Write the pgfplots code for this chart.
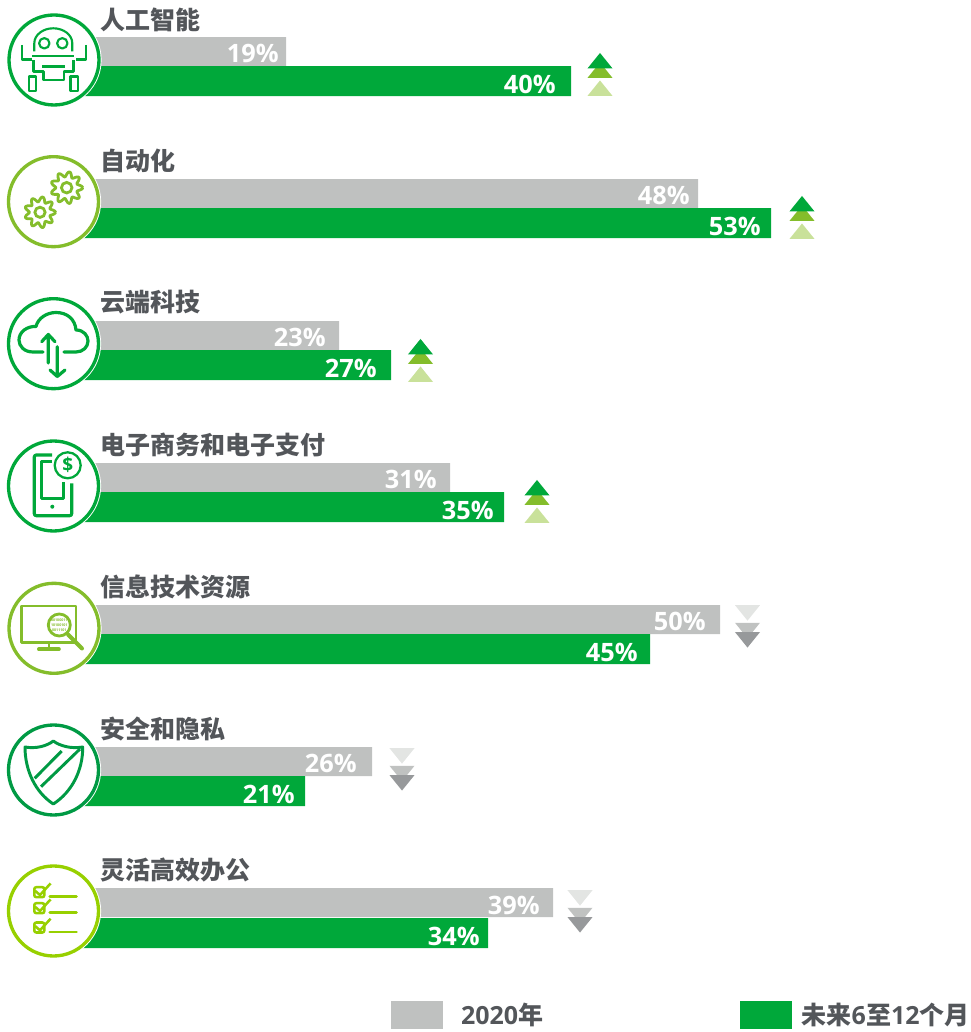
\documentclass[border=0pt]{standalone}
\usepackage{pgfplots}
\usepackage{pgfplotstable}
\pgfplotsset{compat=1.18}
\usepackage{fontspec}
\setmainfont{Open Sans}
\newfontfamily\cjk{Noto Sans CJK SC}

\definecolor{bargrey}{HTML}{BFC1C0}
\definecolor{bargreen}{HTML}{00A83A}
\definecolor{textgrey}{HTML}{53565A}
\definecolor{upmid}{HTML}{84BD2B}
\definecolor{uplight}{HTML}{C9E19A}
\definecolor{downlight}{HTML}{E3E5E3}
\definecolor{downmid}{HTML}{C0C2C1}
\definecolor{downdark}{HTML}{97999B}
\definecolor{shieldgreen}{HTML}{009A44}
\definecolor{checkgreen}{HTML}{97D000}

% triangles 25x15.5 px, 1 px = 0.75 pt
\pgfdeclareplotmark{uptri}{%
  \pgfpathmoveto{\pgfqpoint{0pt}{5.81pt}}%
  \pgfpathlineto{\pgfqpoint{9.4pt}{-5.81pt}}%
  \pgfpathlineto{\pgfqpoint{-9.4pt}{-5.81pt}}%
  \pgfpathclose\pgfusepathqfill}
\pgfdeclareplotmark{downtri}{%
  \pgfpathmoveto{\pgfqpoint{0pt}{-5.81pt}}%
  \pgfpathlineto{\pgfqpoint{9.4pt}{5.81pt}}%
  \pgfpathlineto{\pgfqpoint{-9.4pt}{5.81pt}}%
  \pgfpathclose\pgfusepathqfill}

% x = bar end in px from the circle centre, y = px from the top; lx, ly place the label
\pgfplotstableread{
y     x    pct  lx   ly
51.5  232  19   225  53
193.5 644  48   636  195
335.5 285  23   272  337
477.5 396  31   383  479
619.5 666  50   652  621
761.5 318  26   303  763
902.5 499  39   486  905
}\greytable
\pgfplotstableread{
y     x    pct  lx   ly
81    517  40   502  84
223   717  53   707  226
365   337  27   323  368
507   450  35   440  510
649   596  45   584  652
791   251  21   241  794
933   434  34   426  936
}\greentable

\newcommand{\fsmain}{\fontsize{18.75}{20}\selectfont}
\newcommand{\fsval}{\fontsize{19}{21}\selectfont}
\newcommand{\badge}[3]{% centre x, centre y, colour
  \fill[white] (#1,#2) circle[radius=47.6];
  \draw[#3,line width=2.5pt] (#1,#2) circle[radius=45];}
\newcommand{\gear}[3]{% centre x, centre y, radius
  \draw[upmid,line width=2.1pt,line join=round,shift={(#1,#2)}]
    plot[domain=0:360,samples=109] (\x:{#3*(.84+.16*cos(9*\x))});
  \draw[upmid,line width=2.1pt] (#1,#2) circle[radius=#3*.33];}
\newcommand{\checkbox}[2]{% box centre, line y
  \draw[checkgreen,line width=1.9pt,rounded corners=1.5pt,shift={(39.3,#1)}]
    (-5,-4.5) rectangle (5,5.5);
  \draw[checkgreen,line width=1.9pt,shift={(39.3,#1)}] (-4.3,-1)--(.7,3.3)--(11.3,-8.3);
  \draw[checkgreen,line width=2.2pt,line cap=round] (49.8,#2)--(76.5,#2);}
\newcommand{\catlabel}[2]{\node[anchor=west,inner sep=0pt,text=textgrey,font=\fsmain\bfseries\cjk] at (100.5,#1) {#2};}

\begin{document}
\begin{tikzpicture}
\useasboundingbox (0,0) rectangle (728.25pt,774pt);
\begin{axis}[
  at={(0,0)}, anchor=south west,
  width=728.25pt, height=774pt, scale only axis,
  xmin=-54, xmax=917, ymin=0, ymax=1032, y dir=reverse,
  hide axis, clip=false,
  legend columns=2,
  legend style={at={(axis cs:337,1015)},anchor=west,draw=none,fill=none,
    inner sep=0pt,outer sep=0pt,
    nodes={inner sep=0pt,outer sep=0pt,text=textgrey,font=\fsmain\bfseries}},
]
  \addplot[xbar,bar width=21.75pt,bar shift=0pt,fill=bargrey,draw=none,
    legend image code/.code={\fill[bargrey] (0pt,-10.5pt) rectangle (39pt,10.5pt);}]
    table[x=x,y=y] {\greytable};
  \addlegendentry{\rule{13.5pt}{0pt}2020{\cjk 年}\rule{147.5pt}{0pt}}
  \addplot[xbar,bar width=22.5pt,bar shift=0pt,fill=bargreen,draw=none,
    legend image code/.code={\fill[bargreen] (0pt,-10.5pt) rectangle (39pt,10.5pt);}]
    table[x=x,y=y] {\greentable};
  \addlegendentry{\rule{7.5pt}{0pt}{\cjk 未来}6{\cjk 至}12{\cjk 个月}}

  \addplot[only marks,mark=none,forget plot,point meta=explicit symbolic,
    nodes near coords={\pgfplotspointmeta\%},
    every node near coord/.style={anchor=east,inner sep=0pt,text=white,font=\fsval\bfseries}]
    table[x=lx,y=ly,meta=pct] {\greytable};
  \addplot[only marks,mark=none,forget plot,point meta=explicit symbolic,
    nodes near coords={\pgfplotspointmeta\%},
    every node near coord/.style={anchor=east,inner sep=0pt,text=white,font=\fsval\bfseries}]
    table[x=lx,y=ly,meta=pct] {\greentable};

  % rising rows
  \addplot[only marks,forget plot,mark=uptri,mark options={fill=uplight,draw=none}]
    coordinates {(546,88.2)(748,231.2)(366.5,374.2)(483,515.2)};
  \addplot[only marks,forget plot,mark=uptri,mark options={fill=upmid,draw=none}]
    coordinates {(546,70.2)(748,213.2)(366.5,356.2)(483,497.2)};
  \addplot[only marks,forget plot,mark=uptri,mark options={fill=bargreen,draw=none}]
    coordinates {(546,60.7)(748,203.7)(366.5,346.7)(483,487.7)};
  % falling rows
  \addplot[only marks,forget plot,mark=downtri,mark options={fill=downlight,draw=none}]
    coordinates {(693.5,612.9)(348,755.9)(526,897.9)};
  \addplot[only marks,forget plot,mark=downtri,mark options={fill=downmid,draw=none}]
    coordinates {(693.5,630.5)(348,773.5)(526,915.5)};
  \addplot[only marks,forget plot,mark=downtri,mark options={fill=downdark,draw=none}]
    coordinates {(693.5,639.8)(348,782.8)(526,924.8)};
\end{axis}

% labels and icons, in reference pixels
\begin{scope}[shift={(0,774pt)},x=0.75pt,y=-0.75pt]
  \catlabel{19.5}{人工智能}
  \catlabel{161}{自动化}
  \catlabel{302.5}{云端科技}
  \catlabel{445}{电子商务和电子支付}
  \catlabel{586.5}{信息技术资源}
  \catlabel{729}{安全和隐私}
  \catlabel{870}{灵活高效办公}

  % robot
  \badge{54}{60}{bargreen}
  \begin{scope}[bargreen,line width=1.6pt,line join=round]
    \draw (34.3,51.5)--(34.3,43.3) arc[start angle=180,end angle=360,x radius=19,y radius=15]--(72.3,51.5);
    \draw (44.3,43.3) circle[radius=5.2] (62.3,43.3) circle[radius=5.2];
    \draw[line width=2.2pt] (32,56)--(74,56);
    \draw (21.7,45)--(21.7,59.5)--(32,59.5) (86,45)--(86,59.5)--(76,59.5);
    \draw (33.5,60)--(33.5,71.5)--(43.5,71.5)--(43.5,80)--(64,80)--(64,71.5)--(73.5,71.5)--(73.5,60);
    \draw[line width=2.2pt] (42,66.7)--(65,66.7);
    \draw (28.8,76.5) rectangle (35.8,91) (70.5,76.5) rectangle (78,91);
  \end{scope}

  % gears
  \badge{53.5}{201.7}{upmid}
  \gear{66.7}{187.7}{16}
  \gear{40}{212.3}{15.5}

  % cloud
  \badge{53.5}{343.7}{bargreen}
  \begin{scope}[bargreen,line width=2.4pt,line cap=round,line join=round]
    \draw (43,352)--(33,352) .. controls (24,352) and (19,346) .. (19,340)
      .. controls (19,332) and (27,326) .. (36,326.5)
      .. controls (38,318) and (47,312.5) .. (56,312.5)
      .. controls (67,312.5) and (75,319) .. (76,330)
      .. controls (84,330) and (88,336) .. (88,341)
      .. controls (88,347) and (83,352) .. (76,352)--(64,352);
    \draw (48.3,363)--(48.3,334.5) (41.7,341.7)--(48.3,334.5)--(55,341.7);
    \draw (57.3,346.7)--(57.3,376.5) (50,370)--(57.3,376.5)--(65,370);
  \end{scope}

  % phone
  \badge{53.5}{486}{bargreen}
  \begin{scope}[bargreen,line width=2.4pt,line join=round]
    \draw[rounded corners=1.5pt] (52,455)--(34.3,455)--(34.3,515.7)--(71.7,515.7)--(71.7,483.3);
    \draw (52,461.7)--(41.7,461.7)--(41.7,498.3)--(63.3,498.3)--(63.3,481.7);
    \fill (52.3,506.7) circle[radius=2];
    \draw[line width=1.7pt] (67.7,465.3) circle[radius=13];
    \node[inner sep=0pt,text=bargreen,font=\fontsize{14.25}{15}\selectfont\bfseries] at (67.7,465.3) {\$};
  \end{scope}

  % monitor
  \badge{54}{628.3}{upmid}
  \begin{scope}[upmid,line width=2.1pt,line join=round]
    \draw (21.7,606) rectangle (76,642.7);
    \draw (49,642.7)--(49,649.3);
    \draw[line width=2.7pt,line cap=round] (38.8,649.3)--(59,649.3);
    \fill[white] (59.3,625) circle[radius=11];
    \draw (59.3,625) circle[radius=11];
    \draw[line width=3pt,line cap=round] (68,634.5)--(82,648.5);
    \node[align=center,inner sep=0pt,text=upmid,font=\fontsize{2.7}{3.6}\selectfont\bfseries] at (59.3,625)
      {00100011\\10100101\\0011101};
  \end{scope}

  % shield
  \badge{53.5}{770}{shieldgreen}
  \begin{scope}[shieldgreen,line width=2.2pt,line join=round]
    \draw (25,747) .. controls (36,749) and (47,746) .. (53.3,741)
      .. controls (60,746) and (71,749) .. (82.7,747)
      .. controls (83,770) and (72,792) .. (53.3,804)
      .. controls (35,792) and (25,770) .. cycle;
    \draw (34.7,778.3)--(61.7,751) (41,786.7)--(80,749);
  \end{scope}

  % checklist
  \badge{53.5}{911}{checkgreen}
  \checkbox{891.7}{896.7}
  \checkbox{907.7}{912.7}
  \checkbox{927}{932}
\end{scope}
\end{tikzpicture}
\end{document}
